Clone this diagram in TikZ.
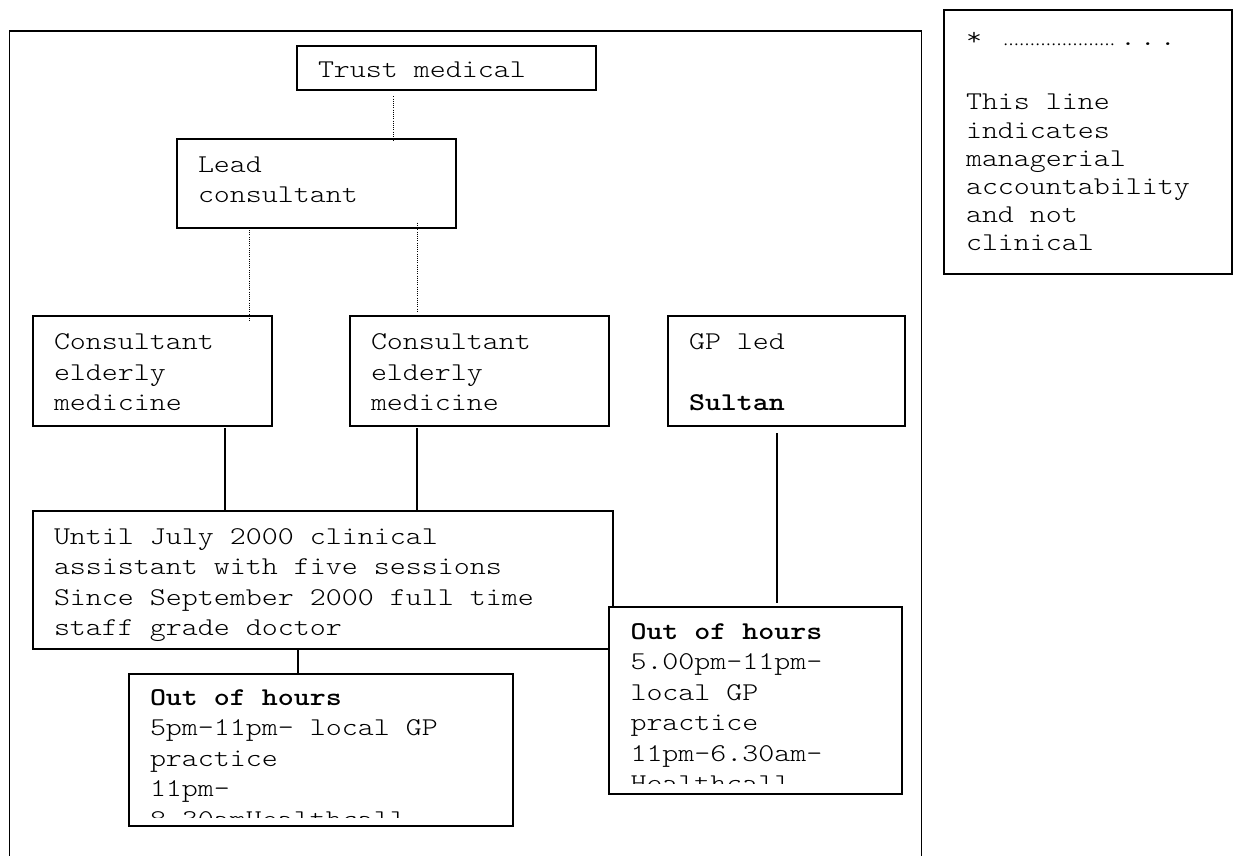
\documentclass[tikz,border=0pt]{standalone}
\usepackage{fontspec}
\newfontfamily\orgfont{lmmonolt10-regular.otf}[BoldFont=lmmonolt10-bold.otf, FakeStretch=1.19]
\newfontfamily\dotfont{Liberation Serif}
\newcommand\orgtext{\orgfont\fontsize{25.6}{30.5}\selectfont}
\newcommand\legendtext{\orgfont\fontsize{25.6}{28.2}\selectfont}

\begin{document}
\begin{tikzpicture}[x=1pt, y=-1pt,
  orgbox/.style={draw, line width=1.5pt, fill=white, anchor=north west, align=left,
    inner xsep=21pt, inner ysep=0pt, outer sep=0pt, font=\orgtext,
    execute at begin node={\setlength\spaceskip{16pt}\setlength\xspaceskip{16pt}}},
  orglink/.style={line width=1.6pt},
  orgdot/.style={line width=1pt, dash pattern=on 1pt off 1.2pt}]
  \useasboundingbox (0,0) rectangle (1235,856);
  \draw[line width=1.8pt] (9.5,856) -- (9.5,31) -- (921.5,31) -- (921.5,856);

  \node[orgbox, text width=257pt, text height=31.5pt, text depth=12.5pt] (trust) at (297,46) {Trust medical};
  \node[orgbox, text width=237pt, text height=33pt, text depth=56pt] (lead) at (177,139) {Lead\\consultant};
  \node[orgbox, text width=197pt, text height=33.6pt, text depth=76.4pt] (cons1) at (33,316) {Consultant\\elderly\\medicine};
  \node[orgbox, text width=217pt, text height=33.6pt, text depth=76.4pt] (cons2) at (350,316) {Consultant\\elderly\\medicine};
  \node[orgbox, text width=195pt, text height=33.6pt, text depth=76.4pt] (gp) at (668,316) {GP led\\[\baselineskip]\textbf{Sultan}};
  \node[orgbox, text width=538pt, text height=33.3pt, text depth=104.5pt] (until) at (33,511)
    {Until July 2000 clinical\\assistant with five sessions\\Since September 2000 full time\\staff grade doctor};

  \begin{scope}
    \clip (129,674) rectangle (513,817);
    \node[orgbox, draw=none, text width=342pt, text height=31pt, text depth=121pt] (oohA) at (129,674)
      {\textbf{Out of hours}\\5pm-11pm- local GP\\practice\\11pm-\\8.30amHealthcall};
  \end{scope}
  \draw[line width=1.5pt] (oohA.north west) rectangle (oohA.south east);

  \begin{scope}
    \clip (609,607) rectangle (902,783);
    \node[orgbox, draw=none, inner xsep=21.5pt, text width=250pt, text height=32.3pt, text depth=154.7pt] (oohB) at (609,607)
      {\textbf{Out of hours}\\5.00pm-11pm-\\local GP\\practice\\11pm-6.30am-\\Healthcall};
  \end{scope}
  \draw[line width=1.5pt] (oohB.north west) rectangle (oohB.south east);

  \node[orgbox, inner xsep=22pt, text width=244pt, text height=36pt, text depth=228pt, font=\legendtext] (legend) at (944,10)
    {*\hspace{21pt}{\dotfont\fontsize{16}{16}\selectfont{…}{…}{…}{…}{…}{…}{…}}\kern5pt.\kern4pt.\kern4pt.\\[35.8pt]This line\\indicates\\managerial\\accountability\\and not\\clinical};

  \draw[orgdot] ([shift={(96.5,6.5)}]trust.south west) -- ([shift={(216.5,2.5)}]lead.north west);
  \draw[orgdot] ([shift={(72.5,2)}]lead.south west) -- ([shift={(216.5,4.7)}]cons1.north west);
  \draw[orgdot] ([shift={(240.5,-5.3)}]lead.south west) -- ([shift={(67.5,-3.7)}]cons2.north west);
  \draw[orglink] ([shift={(192,2)}]cons1.south west) -- ([shift={(192,0)}]until.north west);
  \draw[orglink] ([shift={(67,2)}]cons2.south west) -- ([shift={(384,0)}]until.north west);
  \draw[orglink] ([shift={(109,7.3)}]gp.south west) -- ([shift={(168,-4.3)}]oohB.north west);
  \draw[orglink] ([shift={(265,0)}]until.south west) -- ([shift={(169,0)}]oohA.north west);
\end{tikzpicture}
\end{document}
